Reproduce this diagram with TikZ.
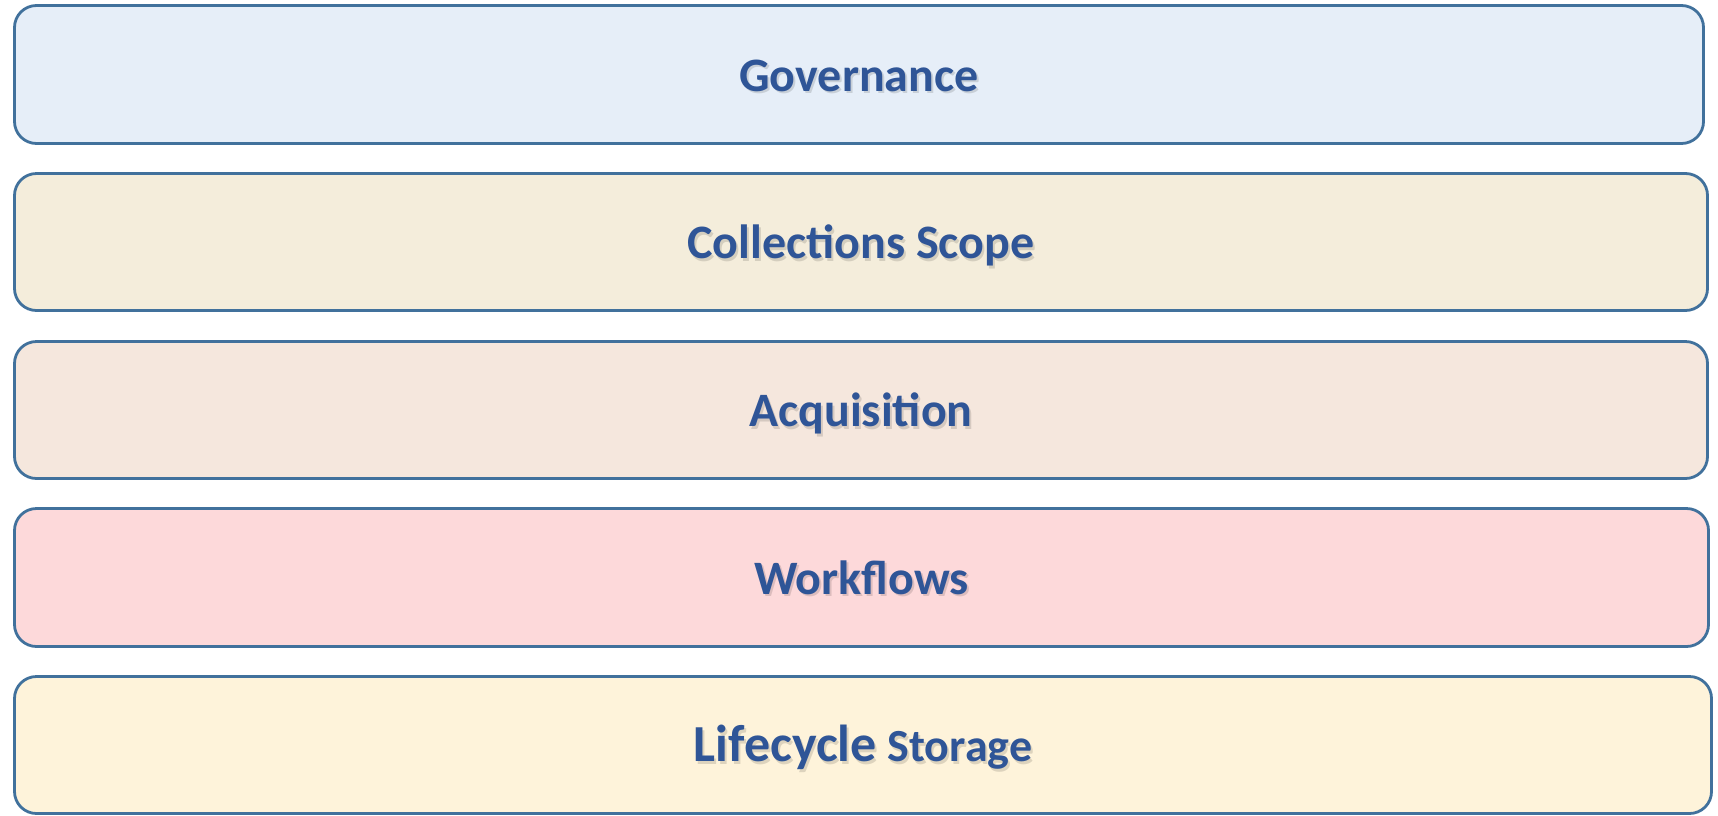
\documentclass[tikz,border=0pt]{standalone}
\usepackage{fontspec}
\setmainfont{Carlito}
\definecolor{edgeblue}{HTML}{41719C}
\definecolor{capblue}{HTML}{2F5597}
\definecolor{govfill}{HTML}{E6EEF8}
\definecolor{scopefill}{HTML}{F4EDDB}
\definecolor{acqfill}{HTML}{F5E7DD}
\definecolor{flowfill}{HTML}{FDD9DA}
\definecolor{lifefill}{HTML}{FEF3DA}

\begin{document}
\begin{tikzpicture}[x=1pt, y=-1pt,
    layer/.style={draw=edgeblue, line width=2.8pt, rounded corners=22pt, minimum height=137pt, inner sep=0pt},
    caption/.style={inner sep=0pt, text height=33pt, text depth=0pt, text=capblue,
        font=\fontsize{48}{58}\selectfont\bfseries},
    capshade/.style={caption, text=black, text opacity=0.13}]
		\useasboundingbox (0,0) rectangle (1718,815);
		% the five layers, top to bottom
		\node[layer, fill=govfill,   minimum width=1689pt, minimum height=138pt] (gov)   at (859,74.5) {};
		\node[layer, fill=scopefill, minimum width=1693pt] (scope) at (861,242) {};
		\node[layer, fill=acqfill,   minimum width=1693pt] (acq)   at (861,410) {};
		\node[layer, fill=flowfill,  minimum width=1694pt, minimum height=138pt] (wflow) at (861.5,577.5) {};
		\node[layer, fill=lifefill,  minimum width=1697pt] (life)  at (863,745) {};
		% labels with a soft shadow
		\node[capshade] (gov-s)   at ([shift={(2pt,-2.5pt)}]gov.center)   {Governance};
		\node[caption]  (gov-t)   at (gov.center)   {Governance};
		\node[capshade] (scope-s) at ([shift={(2pt,-2.5pt)}]scope.center) {Collections Scope};
		\node[caption]  (scope-t) at (scope.center) {Collections Scope};
		\node[capshade] (acq-s)   at ([shift={(2pt,-2.5pt)}]acq.center)   {Acquisition};
		\node[caption]  (acq-t)   at (acq.center)   {Acquisition};
		\node[capshade] (wflow-s) at ([shift={(2pt,-2.5pt)}]wflow.center) {Workflows};
		\node[caption]  (wflow-t) at (wflow.center) {Workflows};
		\node[capshade] (life-s)  at ([shift={(2pt,-2.5pt)}]life.center)
			{{\fontsize{52}{60}\selectfont Lifecycle} {\fontsize{46}{56}\selectfont Storage}};
		\node[caption]  (life-t)  at (life.center)
			{{\fontsize{52}{60}\selectfont Lifecycle} {\fontsize{46}{56}\selectfont Storage}};
	\end{tikzpicture}
\end{document}
